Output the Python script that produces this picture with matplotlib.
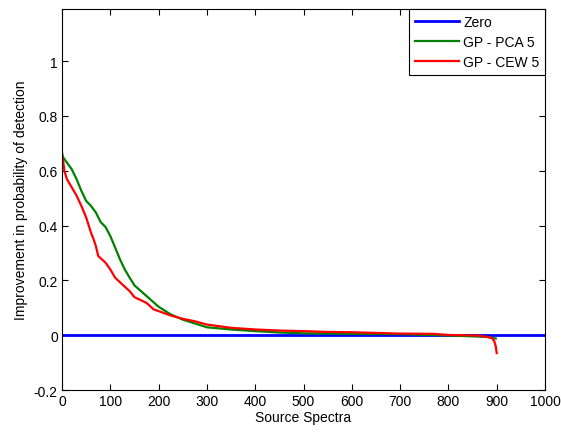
import matplotlib
matplotlib.use('Agg')
import matplotlib.pyplot as plt
import numpy as np

# values
pca_x = [0, 2, 10, 20, 30, 40, 50, 60, 70, 80, 90, 100, 110, 120, 130, 140, 150,
         175, 200, 225, 250, 275, 300, 350, 400, 450, 500, 600, 700, 800, 880, 898]
pca_y = [0.667, 0.65, 0.63, 0.606, 0.57, 0.527, 0.49, 0.472, 0.448, 0.413, 0.395,
         0.362, 0.32, 0.277, 0.24, 0.21, 0.182, 0.143, 0.104, 0.076, 0.057, 0.043,
         0.029, 0.021, 0.015, 0.010, 0.007, 0.005, 0.004, -0.001, -0.006, -0.012]

cew_x = [0, 2, 5, 10, 20, 30, 40, 50, 60, 65, 70, 75, 90, 100, 110, 125, 140, 150,
         175, 190, 200, 225, 250, 275, 300, 350, 400, 450, 500, 550, 600, 700, 770,
         800, 860, 880, 890, 895, 898, 900]
cew_y = [0.655, 0.64, 0.60, 0.57, 0.54, 0.51, 0.472, 0.43, 0.374, 0.352, 0.326,
         0.289, 0.265, 0.24, 0.21, 0.185, 0.161, 0.139, 0.118, 0.094, 0.088, 0.072,
         0.06, 0.051, 0.039, 0.027, 0.021, 0.017, 0.015, 0.012, 0.011, 0.006, 0.005,
         0.001, -0.001, -0.006, -0.01, -0.022, -0.04, -0.065]

zero_x = [0, 1000]
zero_y = [0, 0]

plt.rcParams['font.family'] = ['Liberation Sans', 'DejaVu Sans']
plt.rcParams['font.size'] = 10

fig = plt.figure(figsize=(5.61, 4.35), dpi=100)
ax = fig.add_axes([0.1105, 0.101, 0.861, 0.876])

ax.plot(zero_x, zero_y, color='#0000ff', lw=2, label='Zero')
ax.plot(pca_x, pca_y, color='#008000', lw=1.6, label='GP - PCA 5')
ax.plot(cew_x, cew_y, color='#ff0000', lw=1.6, label='GP - CEW 5')

ax.set_xlim(0, 1000)
ax.set_ylim(-0.2, 1.19)
ax.set_xticks(np.arange(0, 1001, 100))
ax.set_yticks([-0.2, 0, 0.2, 0.4, 0.6, 0.8, 1])
ax.set_yticklabels(['-0.2', '0', '0.2', '0.4', '0.6', '0.8', '1'])
ax.tick_params(direction='in', top=True, right=True, length=4, width=0.8,
               labelsize=10, pad=3)
for s in ax.spines.values():
    s.set_linewidth(0.8)

ax.set_xlabel('Source Spectra', labelpad=1)
ax.set_ylabel('Improvement in probability of detection', labelpad=4)

leg = ax.legend(loc='upper right', borderaxespad=0, fancybox=False,
                edgecolor='black', framealpha=1, handlelength=3.2,
                borderpad=0.4, labelspacing=0.45, handletextpad=0.3)
leg.get_frame().set_linewidth(0.8)

fig.savefig('out.png', dpi=100)
